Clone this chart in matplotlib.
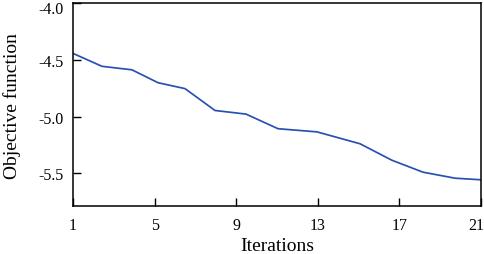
import matplotlib
matplotlib.use('Agg')
import matplotlib.pyplot as plt
import matplotlib.transforms as mtransforms

# ── Data ────────────────────────────────────────────────────────────────────
iterations = [1, 2.42, 3.89, 5.17, 6.49, 7.96, 9.48, 11.05, 12.96, 15.07,
              16.64, 18.16, 19.73, 21]
objective = [-4.442, -4.556, -4.587, -4.701, -4.753, -4.946, -4.978, -5.107,
             -5.135, -5.240, -5.386, -5.491, -5.544, -5.558]
x_ticks = [1, 5, 9, 13, 17, 21]
y_ticks = [-5.5, -5.0, -4.5, -4.0]

plt.rcParams.update({'font.family': ['Liberation Serif', 'DejaVu Serif'],
                     'axes.unicode_minus': False})

fig = plt.figure(figsize=(4.84, 2.55), dpi=100)
ax = fig.add_axes([0.1508, 0.188, 0.8430, 0.795])

ax.plot(iterations, objective, color='#2a50b0', lw=1.25)

ax.set_xlim(1, 21)
ax.set_ylim(-5.79, -4.0)
ax.set_xticks(x_ticks)
ax.set_yticks(y_ticks)
ax.set_yticklabels([f'{v:.1f}' for v in y_ticks])
ax.tick_params(direction='in', length=5.5, width=1.0, labelsize=11.5,
               top=False, right=False)
ax.tick_params(axis='x', pad=8)
ax.tick_params(axis='y', pad=7)
for s in ax.spines.values():
    s.set_linewidth(1.1)

# keep the edge labels inside the picture, as in the reference
fig.canvas.draw()
ax.get_xticklabels()[-1].set_horizontalalignment('right')
ax.get_xticklabels()[-1].set_transform(
    ax.get_xaxis_text1_transform(8)[0] +
    mtransforms.ScaledTranslation(2 / 72, 0, fig.dpi_scale_trans))
ax.get_yticklabels()[-1].set_transform(
    ax.get_yaxis_text1_transform(7)[0] +
    mtransforms.ScaledTranslation(0, -2.7 / 72, fig.dpi_scale_trans))

ax.set_xlabel('Iterations', fontsize=14, labelpad=3)
ax.set_ylabel('Objective function', fontsize=14, labelpad=12)

fig.savefig('out.png', dpi=100, facecolor='white')
